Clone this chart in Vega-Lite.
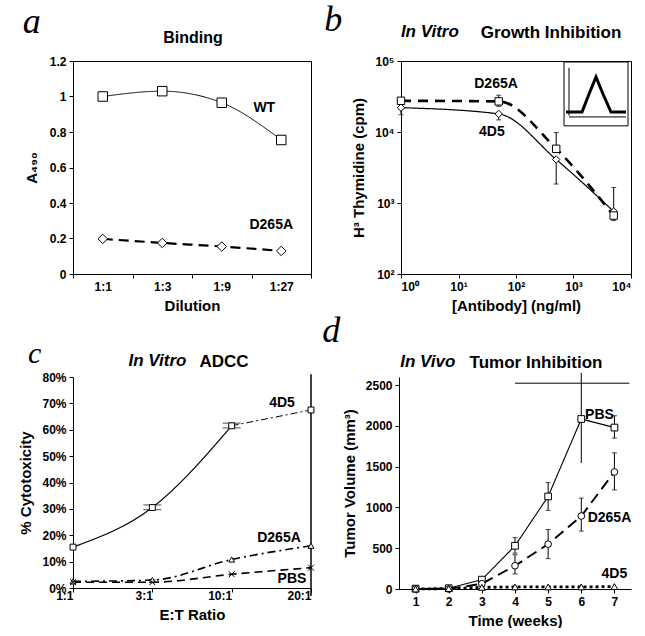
{
  "$schema": "https://vega.github.io/schema/vega-lite/v6.json",
  "padding": {"left": 18, "top": 1, "right": 0, "bottom": 0},
  "background": "white",
  "data": {"values": [{}]},
  "config": {
    "font": "Liberation Sans",
    "view": {"stroke": null},
    "axis": {"domainColor": "black", "tickColor": "black", "labelColor": "black", "titleColor": "black", "labelFont": "Liberation Sans", "labelFontWeight": "bold", "labelFontSize": 12, "titleFont": "Liberation Sans", "titleFontWeight": "bold", "titleFontSize": 15, "grid": false, "tickSize": 4, "labelPadding": 3, "labelOverlap": false, "tickCount": 20},
    "title": {"font": "Liberation Sans", "fontWeight": "bold", "fontSize": 17, "color": "black"},
    "text": {"font": "Liberation Sans", "fontWeight": "bold", "fontSize": 14, "color": "black"}
  },
  "datasets": {
    "binding": [
      {"dilution": "1:1", "series": "WT", "a490": 1.0},
      {"dilution": "1:3", "series": "WT", "a490": 1.03},
      {"dilution": "1:9", "series": "WT", "a490": 0.965},
      {"dilution": "1:27", "series": "WT", "a490": 0.755},
      {"dilution": "1:1", "series": "D265A", "a490": 0.198},
      {"dilution": "1:3", "series": "D265A", "a490": 0.175},
      {"dilution": "1:9", "series": "D265A", "a490": 0.155},
      {"dilution": "1:27", "series": "D265A", "a490": 0.13}
    ],
    "growth": [
      {"conc": 1, "series": "4D5", "cpm": 22000},
      {"conc": 50, "series": "4D5", "cpm": 18000},
      {"conc": 500, "series": "4D5", "cpm": 4100},
      {"conc": 5000, "series": "4D5", "cpm": 760},
      {"conc": 1, "series": "D265A", "cpm": 27500},
      {"conc": 50, "series": "D265A", "cpm": 27000},
      {"conc": 500, "series": "D265A", "cpm": 5800},
      {"conc": 5000, "series": "D265A", "cpm": 665}
    ],
    "growthErr": [
      {"conc": 1, "lo": 17500, "hi": 22000},
      {"conc": 50, "lo": 14800, "hi": 18000},
      {"conc": 500, "lo": 1850, "hi": 4100},
      {"conc": 50, "lo": 23000, "hi": 33000},
      {"conc": 500, "lo": 5800, "hi": 9800},
      {"conc": 5000, "lo": 565, "hi": 1650}
    ],
    "insetCurve": [
      {"x": 741, "y": 19100},
      {"x": 1406, "y": 19100},
      {"x": 1862, "y": 34300},
      {"x": 2462, "y": 59600},
      {"x": 3258, "y": 34300},
      {"x": 4490, "y": 19100},
      {"x": 8185, "y": 19100}
    ],
    "adcc": [
      {"ratio": "1:1", "series": "4D5", "pct": 0.155},
      {"ratio": "3:1", "series": "4D5", "pct": 0.305},
      {"ratio": "10:1", "series": "4D5", "pct": 0.615},
      {"ratio": "20:1", "series": "4D5", "pct": 0.675},
      {"ratio": "1:1", "series": "D265A", "pct": 0.025},
      {"ratio": "3:1", "series": "D265A", "pct": 0.03},
      {"ratio": "10:1", "series": "D265A", "pct": 0.108},
      {"ratio": "20:1", "series": "D265A", "pct": 0.16},
      {"ratio": "1:1", "series": "PBS", "pct": 0.022},
      {"ratio": "3:1", "series": "PBS", "pct": 0.022},
      {"ratio": "10:1", "series": "PBS", "pct": 0.052},
      {"ratio": "20:1", "series": "PBS", "pct": 0.077}
    ],
    "adccErr": [
      {"ratio": "3:1", "lo": 0.297, "hi": 0.315},
      {"ratio": "10:1", "lo": 0.607, "hi": 0.625}
    ],
    "tumor": [
      {"week": 1, "series": "PBS", "vol": 5},
      {"week": 2, "series": "PBS", "vol": 10},
      {"week": 3, "series": "PBS", "vol": 115},
      {"week": 4, "series": "PBS", "vol": 530},
      {"week": 5, "series": "PBS", "vol": 1135},
      {"week": 6, "series": "PBS", "vol": 2085},
      {"week": 7, "series": "PBS", "vol": 1980},
      {"week": 1, "series": "D265A", "vol": 0},
      {"week": 2, "series": "D265A", "vol": 0},
      {"week": 3, "series": "D265A", "vol": 65},
      {"week": 4, "series": "D265A", "vol": 285},
      {"week": 5, "series": "D265A", "vol": 550},
      {"week": 6, "series": "D265A", "vol": 895},
      {"week": 7, "series": "D265A", "vol": 1435},
      {"week": 1, "series": "4D5", "vol": 0},
      {"week": 2, "series": "4D5", "vol": 5},
      {"week": 3, "series": "4D5", "vol": 20},
      {"week": 4, "series": "4D5", "vol": 25},
      {"week": 5, "series": "4D5", "vol": 25},
      {"week": 6, "series": "4D5", "vol": 25},
      {"week": 7, "series": "4D5", "vol": 30}
    ],
    "tumorErr": [
      {"week": 4, "lo": 440, "hi": 630},
      {"week": 5, "lo": 965, "hi": 1305},
      {"week": 7, "lo": 1850, "hi": 2125},
      {"week": 4, "lo": 185, "hi": 420},
      {"week": 5, "lo": 372, "hi": 730},
      {"week": 6, "lo": 710, "hi": 1115},
      {"week": 7, "lo": 1215, "hi": 1670}
    ]
  },
  "spacing": -1,
  "resolve": {"scale": {"shape": "independent", "strokeDash": "independent", "strokeWidth": "independent"}},
  "vconcat": [
    {
      "spacing": 12,
      "resolve": {"scale": {"shape": "independent", "strokeDash": "independent", "strokeWidth": "independent"}},
      "hconcat": [
        {
          "title": {"text": "a", "anchor": "start", "font": "Liberation Serif", "fontStyle": "italic", "fontWeight": "normal", "fontSize": 36, "dx": -1, "offset": -22},
          "vconcat": [
            {
              "title": {"text": " ", "anchor": "middle", "fontStyle": "italic", "offset": -7},
              "vconcat": [
                {
                  "width": 238, "height": 213,
                  "title": {"text": "Binding", "offset": 9, "dx": 1, "fontSize": 16},
                  "view": {"stroke": "black", "strokeWidth": 1},
                  "layer": [
                    {
                      "data": {"name": "binding"},
                      "mark": {"type": "line", "interpolate": "monotone", "color": "black"},
                      "encoding": {
                        "x": {"field": "dilution", "type": "ordinal", "sort": ["1:1", "1:3", "1:9", "1:27"], "scale": {"type": "band", "paddingInner": 0, "paddingOuter": 0}, "axis": {"title": "Dilution", "labelAngle": 0, "tickBand": "extent", "titlePadding": 6}},
                        "y": {"field": "a490", "type": "quantitative", "scale": {"domain": [0, 1.2]}, "axis": {"title": "A₄₉₀", "values": [0, 0.2, 0.4, 0.6, 0.8, 1, 1.2], "tickCount": 20, "format": "~g", "titlePadding": 10}},
                        "detail": {"field": "series"},
                        "strokeDash": {"field": "series", "type": "nominal", "scale": {"domain": ["WT", "D265A"], "range": [[1, 0], [10, 6]]}, "legend": null},
                        "strokeWidth": {"field": "series", "type": "nominal", "scale": {"domain": ["WT", "D265A"], "range": [1, 2.2]}, "legend": null}
                      }
                    },
                    {
                      "data": {"name": "binding"},
                      "mark": {"type": "point", "filled": true, "fill": "white", "stroke": "black", "strokeWidth": 1, "opacity": 1, "size": 90},
                      "encoding": {
                        "x": {"field": "dilution", "type": "ordinal", "sort": ["1:1", "1:3", "1:9", "1:27"]},
                        "y": {"field": "a490", "type": "quantitative"},
                        "shape": {"field": "series", "type": "nominal", "scale": {"domain": ["WT", "D265A"], "range": ["square", "diamond"]}, "legend": null}
                      }
                    },
                    {
                      "mark": {"type": "text", "dx": -17},
                      "encoding": {"x": {"datum": "1:27", "type": "ordinal"}, "y": {"datum": 0.935, "type": "quantitative"}, "text": {"value": "WT"}}
                    },
                    {
                      "mark": {"type": "text", "dx": -10},
                      "encoding": {"x": {"datum": "1:27", "type": "ordinal"}, "y": {"datum": 0.276, "type": "quantitative"}, "text": {"value": "D265A"}}
                    }
                  ]
                }
              ]
            }
          ]
        },
        {
          "title": {"text": "b", "anchor": "start", "font": "Liberation Serif", "fontStyle": "italic", "fontWeight": "normal", "fontSize": 36, "dx": -27, "offset": -16},
          "vconcat": [
            {
              "title": {"text": "In Vitro", "anchor": "middle", "fontStyle": "italic", "offset": -17, "dx": -62},
              "vconcat": [
                {
                  "width": 230, "height": 213,
                  "title": {"text": "Growth Inhibition", "offset": 13, "dx": 35},
                  "view": {"stroke": "black", "strokeWidth": 1},
                  "layer": [
                    {
                      "mark": {"type": "rect", "fill": "white", "stroke": "black", "strokeWidth": 1},
                      "encoding": {
                        "x": {"datum": 684, "type": "quantitative", "scale": {"type": "log", "domain": [1, 10000]}, "axis": {"title": "[Antibody] (ng/ml)", "values": [1, 10, 100, 1000, 10000], "labelExpr": "datum.value == 1 ? '10⁰' : datum.value == 10 ? '10¹' : datum.value == 100 ? '10²' : datum.value == 1000 ? '10³' : '10⁴'", "titlePadding": 6}},
                        "x2": {"datum": 8870},
                        "y": {"datum": 12200, "type": "quantitative", "scale": {"type": "log", "domain": [100, 100000]}, "axis": {"title": "H³ Thymidine (cpm)", "values": [100, 1000, 10000, 100000], "labelExpr": "datum.value == 100 ? '10²' : datum.value == 1000 ? '10³' : datum.value == 10000 ? '10⁴' : '10⁵'", "titlePadding": 8}},
                        "y2": {"datum": 96800}
                      }
                    },
                    {
                      "mark": {"type": "rule", "color": "black", "strokeWidth": 1},
                      "encoding": {"x": {"datum": 835, "type": "quantitative"}, "y": {"datum": 17000, "type": "quantitative"}, "y2": {"datum": 80000}}
                    },
                    {
                      "mark": {"type": "rule", "color": "black", "strokeWidth": 1},
                      "encoding": {"x": {"datum": 835, "type": "quantitative"}, "x2": {"datum": 8185}, "y": {"datum": 16300, "type": "quantitative"}}
                    },
                    {
                      "data": {"name": "insetCurve"},
                      "mark": {"type": "line", "color": "black", "strokeWidth": 3},
                      "encoding": {"x": {"field": "x", "type": "quantitative"}, "y": {"field": "y", "type": "quantitative"}}
                    },
                    {
                      "data": {"name": "growth"},
                      "mark": {"type": "line", "interpolate": "monotone", "color": "black"},
                      "encoding": {
                        "x": {"field": "conc", "type": "quantitative"},
                        "y": {"field": "cpm", "type": "quantitative"},
                        "detail": {"field": "series"},
                        "strokeDash": {"field": "series", "type": "nominal", "scale": {"domain": ["4D5", "D265A"], "range": [[1, 0], [10, 7]]}, "legend": null},
                        "strokeWidth": {"field": "series", "type": "nominal", "scale": {"domain": ["4D5", "D265A"], "range": [1.2, 2.6]}, "legend": null}
                      }
                    },
                    {
                      "data": {"name": "growthErr"},
                      "mark": {"type": "errorbar", "ticks": true, "color": "black", "thickness": 1},
                      "encoding": {"x": {"field": "conc", "type": "quantitative", "title": "[Antibody] (ng/ml)"}, "y": {"field": "lo", "type": "quantitative", "title": "H³ Thymidine (cpm)"}, "y2": {"field": "hi"}}
                    },
                    {
                      "data": {"name": "growth"},
                      "mark": {"type": "point", "filled": true, "fill": "white", "stroke": "black", "strokeWidth": 1, "opacity": 1, "size": 55},
                      "encoding": {
                        "x": {"field": "conc", "type": "quantitative"},
                        "y": {"field": "cpm", "type": "quantitative"},
                        "shape": {"field": "series", "type": "nominal", "scale": {"domain": ["4D5", "D265A"], "range": ["diamond", "square"]}, "legend": null}
                      }
                    },
                    {
                      "mark": {"type": "text"},
                      "encoding": {"x": {"datum": 45, "type": "quantitative"}, "y": {"datum": 47000, "type": "quantitative"}, "text": {"value": "D265A"}}
                    },
                    {
                      "mark": {"type": "text"},
                      "encoding": {"x": {"datum": 38, "type": "quantitative"}, "y": {"datum": 10000, "type": "quantitative"}, "text": {"value": "4D5"}}
                    }
                  ]
                }
              ]
            }
          ]
        }
      ]
    },
    {
      "spacing": 6,
      "resolve": {"scale": {"shape": "independent", "strokeDash": "independent", "strokeWidth": "independent"}},
      "hconcat": [
        {
          "title": {"text": "c", "anchor": "start", "font": "Liberation Serif", "fontStyle": "italic", "fontWeight": "normal", "fontSize": 30, "dx": 9, "offset": -17},
          "vconcat": [
            {
              "title": {"text": "In Vitro", "anchor": "middle", "fontStyle": "italic", "offset": -17, "dx": -10},
              "vconcat": [
                {
                  "width": 238, "height": 211,
                  "title": {"text": "ADCC", "offset": 0, "dx": 32},
                  "layer": [
                    {
                      "mark": {"type": "rule", "color": "black", "strokeWidth": 1.5},
                      "encoding": {"x": {"datum": "20:1", "type": "ordinal"}, "y": {"datum": -0.03, "type": "quantitative"}, "y2": {"datum": 0.81}}
                    },
                    {
                      "data": {"name": "adcc"},
                      "transform": [{"filter": "datum.series == '4D5' && (datum.ratio == '10:1' || datum.ratio == '20:1')"}],
                      "mark": {"type": "line", "color": "black", "strokeWidth": 1, "strokeDash": [7, 3, 2, 3]},
                      "encoding": {
                        "x": {"field": "ratio", "type": "ordinal", "sort": ["1:1", "3:1", "10:1", "20:1"], "scale": {"type": "point", "padding": 0}, "axis": {"title": "E:T Ratio", "labelAngle": 0, "titlePadding": 6}},
                        "y": {"field": "pct", "type": "quantitative", "scale": {"domain": [0, 0.8]}, "axis": {"title": "% Cytotoxicity", "values": [0, 0.1, 0.2, 0.3, 0.4, 0.5, 0.6, 0.7, 0.8], "tickCount": 20, "format": ".0%", "titlePadding": 8}}
                      }
                    },
                    {
                      "data": {"name": "adcc"},
                      "transform": [{"filter": "datum.series == '4D5' && datum.ratio != '20:1'"}],
                      "mark": {"type": "line", "interpolate": "monotone", "color": "black", "strokeWidth": 1.2},
                      "encoding": {"x": {"field": "ratio", "type": "ordinal", "sort": ["1:1", "3:1", "10:1", "20:1"]}, "y": {"field": "pct", "type": "quantitative"}}
                    },
                    {
                      "data": {"name": "adcc"},
                      "transform": [{"filter": "datum.series != '4D5'"}],
                      "mark": {"type": "line", "interpolate": "monotone", "color": "black", "strokeWidth": 1.6},
                      "encoding": {
                        "x": {"field": "ratio", "type": "ordinal", "sort": ["1:1", "3:1", "10:1", "20:1"]},
                        "y": {"field": "pct", "type": "quantitative"},
                        "detail": {"field": "series"},
                        "strokeDash": {"field": "series", "type": "nominal", "scale": {"domain": ["D265A", "PBS"], "range": [[8, 4, 2, 4], [8, 5]]}, "legend": null}
                      }
                    },
                    {
                      "data": {"name": "adccErr"},
                      "mark": {"type": "errorbar", "ticks": true, "color": "black", "thickness": 1},
                      "encoding": {"x": {"field": "ratio", "type": "ordinal", "sort": ["1:1", "3:1", "10:1", "20:1"], "title": "E:T Ratio"}, "y": {"field": "lo", "type": "quantitative", "title": "% Cytotoxicity"}, "y2": {"field": "hi"}}
                    },
                    {
                      "data": {"name": "adcc"},
                      "mark": {"type": "point", "filled": true, "fill": "white", "stroke": "black", "strokeWidth": 1, "opacity": 1, "size": 35},
                      "encoding": {
                        "x": {"field": "ratio", "type": "ordinal", "sort": ["1:1", "3:1", "10:1", "20:1"]},
                        "y": {"field": "pct", "type": "quantitative"},
                        "shape": {"field": "series", "type": "nominal", "scale": {"domain": ["4D5", "D265A", "PBS"], "range": ["square", "triangle-up", "M-1,-1L1,1M-1,1L1,-1"]}, "legend": null}
                      }
                    },
                    {
                      "mark": {"type": "text", "dx": -29},
                      "encoding": {"x": {"datum": "20:1", "type": "ordinal"}, "y": {"datum": 0.70, "type": "quantitative"}, "text": {"value": "4D5"}}
                    },
                    {
                      "mark": {"type": "text", "dx": -32},
                      "encoding": {"x": {"datum": "20:1", "type": "ordinal"}, "y": {"datum": 0.19, "type": "quantitative"}, "text": {"value": "D265A"}}
                    },
                    {
                      "mark": {"type": "text", "dx": -19},
                      "encoding": {"x": {"datum": "20:1", "type": "ordinal"}, "y": {"datum": 0.034, "type": "quantitative"}, "text": {"value": "PBS"}}
                    }
                  ]
                }
              ]
            }
          ]
        },
        {
          "title": {"text": "d", "anchor": "start", "font": "Liberation Serif", "fontStyle": "italic", "fontWeight": "normal", "fontSize": 36, "dx": -20, "offset": 3},
          "vconcat": [
            {
              "title": {"text": "In Vivo", "anchor": "middle", "fontStyle": "italic", "offset": -17, "dx": -59},
              "vconcat": [
                {
                  "width": 232, "height": 212,
                  "title": {"text": "Tumor Inhibition", "offset": 0, "dx": 21},
                  "layer": [
                    {
                      "mark": {"type": "rule", "color": "black", "strokeWidth": 1},
                      "encoding": {"x": {"datum": 4.0, "type": "quantitative", "scale": {"domain": [0.5, 7.5], "nice": false}, "axis": {"title": "Time (weeks)", "values": [1, 2, 3, 4, 5, 6, 7], "tickCount": 20, "format": "d", "titlePadding": 6}}, "x2": {"datum": 7.45}, "y": {"datum": 2524, "type": "quantitative", "scale": {"domain": [0, 2500]}, "axis": {"title": "Tumor Volume (mm³)", "values": [0, 500, 1000, 1500, 2000, 2500], "tickCount": 20, "format": "d", "titlePadding": 8}}}
                    },
                    {
                      "mark": {"type": "rule", "color": "black", "strokeWidth": 1},
                      "encoding": {"x": {"datum": 6, "type": "quantitative"}, "y": {"datum": 1545, "type": "quantitative"}, "y2": {"datum": 2650}}
                    },
                    {
                      "data": {"name": "tumor"},
                      "mark": {"type": "line", "color": "black"},
                      "encoding": {
                        "x": {"field": "week", "type": "quantitative"},
                        "y": {"field": "vol", "type": "quantitative"},
                        "detail": {"field": "series"},
                        "strokeDash": {"field": "series", "type": "nominal", "scale": {"domain": ["PBS", "D265A", "4D5"], "range": [[1, 0], [11, 6], [3, 3]]}, "legend": null},
                        "strokeWidth": {"field": "series", "type": "nominal", "scale": {"domain": ["PBS", "D265A", "4D5"], "range": [1.1, 2.8, 2]}, "legend": null}
                      }
                    },
                    {
                      "data": {"name": "tumorErr"},
                      "mark": {"type": "errorbar", "ticks": true, "color": "black", "thickness": 1},
                      "encoding": {"x": {"field": "week", "type": "quantitative", "title": "Time (weeks)"}, "y": {"field": "lo", "type": "quantitative", "title": "Tumor Volume (mm³)"}, "y2": {"field": "hi"}}
                    },
                    {
                      "data": {"name": "tumor"},
                      "mark": {"type": "point", "filled": true, "fill": "white", "stroke": "black", "strokeWidth": 1, "opacity": 1, "size": 45},
                      "encoding": {
                        "x": {"field": "week", "type": "quantitative"},
                        "y": {"field": "vol", "type": "quantitative"},
                        "shape": {"field": "series", "type": "nominal", "scale": {"domain": ["PBS", "D265A", "4D5"], "range": ["square", "circle", "triangle-up"]}, "legend": null}
                      }
                    },
                    {
                      "mark": {"type": "text"},
                      "encoding": {"x": {"datum": 6.55, "type": "quantitative"}, "y": {"datum": 2134, "type": "quantitative"}, "text": {"value": "PBS"}}
                    },
                    {
                      "mark": {"type": "text"},
                      "encoding": {"x": {"datum": 6.85, "type": "quantitative"}, "y": {"datum": 873, "type": "quantitative"}, "text": {"value": "D265A"}}
                    },
                    {
                      "mark": {"type": "text"},
                      "encoding": {"x": {"datum": 7.0, "type": "quantitative"}, "y": {"datum": 189, "type": "quantitative"}, "text": {"value": "4D5"}}
                    }
                  ]
                }
              ]
            }
          ]
        }
      ]
    }
  ]
}
